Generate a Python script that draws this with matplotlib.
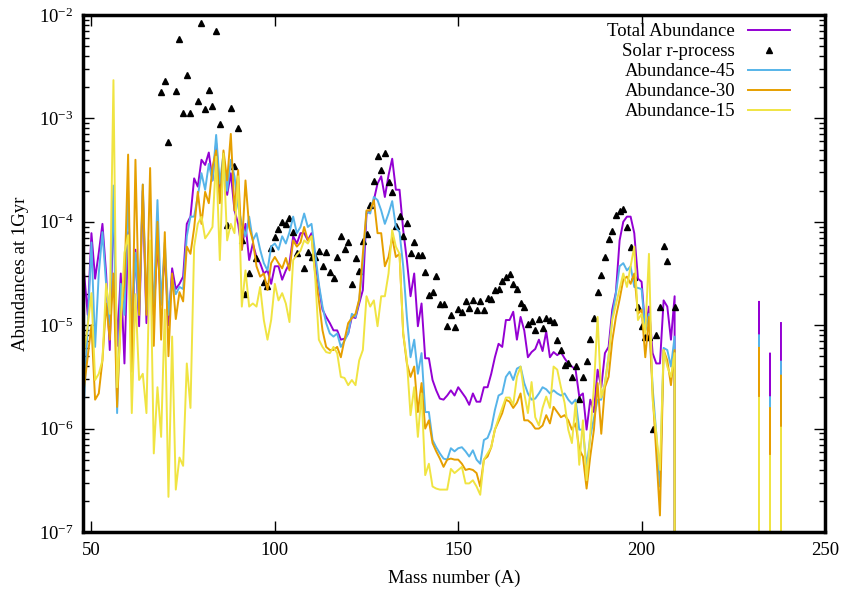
import numpy as np
import matplotlib
matplotlib.use("Agg")
import matplotlib.pyplot as plt
from matplotlib.ticker import LogLocator, NullFormatter

plt.rcParams['font.family'] = ['Liberation Serif', 'DejaVu Serif']
plt.rcParams['mathtext.fontset'] = 'stix'

# mass numbers of the main block (48..209), then nothing until the actinides
A_main = np.arange(48, 210)
A_tail = np.arange(210, 239)
actinide_A = [232, 235, 238]

# log10 of abundance, one value per A = 48..209
log_total = [
    -4.50, -4.90, -4.11, -4.55, -4.30, -4.02, -4.50, -5.24, -3.80, -5.20,   # 48-57
    -4.50, -5.37, -4.10, -5.14, -4.27, -5.01, -3.70, -4.98, -4.40, -4.90,   # 58-67
    -4.20, -4.80, -4.30, -5.00, -4.45, -4.65, -4.60, -4.53, -4.02, -3.95,   # 68-77
    -3.58, -3.66, -3.40, -3.45, -3.33, -3.60, -3.24, -3.69, -3.45, -3.74,   # 78-87
    -3.53, -3.89, -4.02, -4.27, -4.02, -4.37, -4.21, -4.34, -4.40, -4.50,   # 88-97
    -4.47, -4.60, -4.43, -4.43, -4.56, -4.47, -4.40, -4.14, -4.21, -4.11,   # 98-107
    -4.11, -4.18, -4.11, -4.37, -4.63, -4.85, -4.92, -4.98, -5.05, -5.05,   # 108-117
    -5.14, -5.13, -5.08, -4.92, -4.93, -4.79, -4.66, -3.92, -3.89, -3.79,   # 118-127
    -3.63, -3.56, -3.76, -3.55, -3.39, -3.69, -3.69, -4.08, -4.37, -4.72,   # 128-137
    -4.50, -5.01, -4.79, -5.32, -5.32, -5.53, -5.63, -5.71, -5.72, -5.68,   # 138-147
    -5.63, -5.68, -5.60, -5.65, -5.70, -5.77, -5.66, -5.74, -5.74, -5.60,   # 148-157
    -5.60, -5.47, -5.31, -5.18, -5.21, -4.95, -4.95, -4.87, -5.14, -4.92,   # 158-167
    -5.05, -5.31, -5.26, -5.23, -5.14, -5.25, -5.06, -5.31, -5.26, -5.29,   # 168-177
    -5.26, -5.32, -5.37, -5.40, -5.43, -5.69, -5.66, -6.01, -5.72, -5.84,   # 178-187
    -5.43, -5.60, -5.27, -5.21, -4.85, -4.68, -4.18, -4.00, -3.95, -3.95,   # 188-197
    -4.11, -4.55, -4.58, -5.05, -4.82, -5.27, -5.37, -5.37, -4.76, -4.82,   # 198-207
    -5.14, -4.72,                                                           # 208-209
]
log_ab45 = [
    -5.72, -5.00, -4.20, -5.21, -4.50, -4.10, -4.60, -5.00, -3.65, -5.85,
    -4.60, -4.90, -3.70, -5.10, -4.30, -4.90, -3.64, -4.85, -4.30, -4.80,
    -3.79, -4.80, -4.20, -4.90, -4.55, -4.70, -4.63, -4.65, -4.14, -3.95,
    -3.95, -3.75, -3.53, -3.69, -3.44, -3.60, -3.16, -3.63, -3.34, -3.70,
    -3.40, -3.56, -3.85, -4.02, -4.14, -3.95, -4.18, -4.11, -4.27, -4.40,
    -4.47, -4.24, -4.21, -4.27, -4.14, -4.21, -4.10, -3.95, -4.11, -4.05,
    -3.92, -4.05, -4.02, -4.30, -4.60, -4.82, -4.98, -5.08, -5.11, -5.08,
    -5.21, -5.15, -5.08, -4.89, -4.92, -4.76, -4.40, -3.90, -3.92, -3.76,
    -3.79, -3.89, -4.02, -3.92, -3.80, -4.05, -4.10, -4.43, -4.92, -5.31,
    -5.14, -5.47, -5.27, -5.84, -5.84, -6.11, -6.18, -6.24, -6.29, -6.30,
    -6.19, -6.22, -6.19, -6.18, -6.22, -6.27, -6.21, -6.30, -6.34, -6.11,
    -6.09, -6.00, -5.82, -5.68, -5.66, -5.50, -5.45, -5.53, -5.42, -5.40,
    -5.56, -5.66, -5.72, -5.71, -5.66, -5.60, -5.62, -5.66, -5.63, -5.66,
    -5.68, -5.66, -5.72, -5.76, -5.72, -6.01, -6.01, -6.37, -6.08, -5.90,
    -5.72, -5.72, -5.56, -5.30, -4.92, -4.69, -4.43, -4.40, -4.47, -4.43,
    -4.63, -4.64, -4.65, -5.05, -4.89, -5.60, -6.05, -6.56, -5.22, -5.24,
    -5.40, -5.11,
]
log_ab30 = [
    -5.60, -5.30, -5.00, -5.72, -5.66, -5.34, -4.79, -5.14, -4.50, -5.79,
    -4.90, -4.60, -3.35, -5.45, -3.40, -4.90, -3.64, -4.90, -3.48, -5.20,
    -4.00, -5.14, -4.10, -5.30, -4.50, -4.94, -4.68, -4.77, -4.24, -4.31,
    -4.06, -3.71, -4.02, -3.71, -3.82, -3.47, -3.31, -3.82, -3.31, -3.60,
    -3.15, -3.89, -3.50, -4.27, -3.60, -4.05, -4.18, -4.43, -4.53, -4.50,
    -4.66, -4.40, -4.34, -4.40, -4.45, -4.35, -4.47, -4.18, -4.24, -4.20,
    -4.05, -4.18, -4.14, -4.50, -4.76, -5.05, -5.21, -5.24, -5.24, -5.21,
    -5.31, -5.14, -4.98, -4.93, -4.89, -4.75, -4.31, -3.89, -3.89, -3.79,
    -4.11, -4.11, -4.43, -4.34, -4.15, -4.34, -4.31, -5.08, -5.37, -5.50,
    -5.40, -5.84, -5.56, -6.00, -5.92, -6.14, -6.22, -6.29, -6.37, -6.30,
    -6.29, -6.30, -6.30, -6.34, -6.40, -6.39, -6.40, -6.43, -6.56, -6.30,
    -6.27, -6.18, -6.01, -5.93, -5.85, -5.72, -5.74, -5.80, -5.75, -5.66,
    -5.92, -5.92, -5.95, -6.00, -6.00, -5.97, -5.87, -5.95, -5.79, -5.84,
    -5.89, -5.87, -5.92, -6.01, -5.95, -6.20, -6.27, -6.58, -6.27, -6.01,
    -5.56, -6.05, -5.60, -5.50, -5.15, -4.92, -4.75, -4.56, -4.53, -4.60,
    -4.50, -4.89, -4.85, -5.31, -4.92, -5.66, -6.24, -6.84, -5.24, -5.34,
    -5.58, -5.24,
]
log_ab15 = [
    -5.27, -5.00, -4.69, -5.53, -5.47, -5.34, -4.60, -4.89, -2.63, -5.60,
    -5.00, -4.30, -4.13, -5.85, -4.70, -5.53, -5.47, -5.85, -4.18, -6.24,
    -5.60, -6.08, -4.85, -6.66, -5.11, -6.59, -6.28, -6.36, -5.37, -5.80,
    -4.24, -4.02, -3.95, -4.16, -4.11, -4.05, -3.37, -4.37, -3.34, -4.18,
    -4.02, -4.11, -3.56, -4.82, -4.47, -4.82, -4.79, -4.82, -4.63, -4.95,
    -5.14, -4.95, -4.60, -4.76, -4.69, -4.79, -4.97, -4.37, -4.32, -4.28,
    -4.18, -4.21, -4.14, -4.53, -5.14, -5.21, -5.26, -5.27, -5.21, -5.27,
    -5.50, -5.51, -5.58, -5.53, -5.58, -5.34, -5.24, -4.72, -4.82, -4.76,
    -5.01, -4.72, -4.72, -4.50, -4.08, -4.24, -4.31, -5.08, -5.34, -5.87,
    -5.60, -6.08, -5.66, -6.45, -6.34, -6.56, -6.58, -6.59, -6.59, -6.59,
    -6.39, -6.43, -6.40, -6.37, -6.53, -6.53, -6.50, -6.56, -6.64, -6.30,
    -6.24, -6.18, -6.01, -5.90, -5.80, -5.70, -5.70, -5.77, -5.50, -5.40,
    -5.66, -5.85, -5.55, -5.89, -5.97, -5.80, -5.69, -5.80, -5.40, -5.43,
    -5.60, -5.75, -6.01, -6.14, -5.75, -6.35, -5.92, -6.50, -6.05, -5.60,
    -4.92, -5.70, -5.57, -5.30, -4.95, -4.80, -4.65, -4.50, -4.63, -4.43,
    -4.24, -4.95, -4.89, -5.08, -4.31, -5.72, -6.05, -6.40, -5.24, -5.40,
    -5.50, -5.27,
]

# Th-232, U-235, U-238 (log10)
act_total = [-4.773, -5.272, -4.979]
act_ab45 = [-5.095, -5.694, -5.353]
act_ab30 = [-5.218, -5.800, -5.488]
act_ab15 = [-5.701, -6.262, -5.991]

# solar r-process points
solar_A = [69, 70, 71, 73, 74, 75, 76, 77, 79, 80, 81, 82, 83, 84, 85, 87, 88, 89,
           90, 91, 92, 93, 95, 97, 98, 99, 100, 101, 102, 103, 104, 105, 106,
           108, 109, 110, 111, 112, 113, 114, 115, 116, 117, 118, 119, 120,
           121, 122, 123, 124, 125, 126, 127, 128, 129, 130, 131, 132, 133,
           134, 135, 136, 137, 138, 139, 140, 141, 142, 143, 144, 145, 146,
           147, 148, 149, 150, 151, 152, 153, 154, 155, 156, 157, 158, 159,
           160, 161, 162, 163, 164, 165, 166, 167, 168, 169, 170, 171, 172,
           173, 174, 175, 176, 177, 178, 179, 180, 181, 182, 183, 184, 185,
           186, 187, 188, 189, 190, 191, 192, 193, 194, 195, 196, 197, 198,
           199, 200, 201, 202, 203, 204, 205, 206, 207, 209]
solar_log = [-2.745, -2.638, -3.231, -2.732, -2.232, -2.951, -2.580, -2.951,
             -2.832, -2.080, -2.906, -2.725, -2.877, -2.152, -3.054, -4.031,
             -2.902, -3.457, -3.096, -4.176, -4.698, -4.498, -4.353, -4.579,
             -4.621, -4.250, -4.144, -4.070, -4.000, -4.024, -3.966, -4.099,
             -4.299, -4.450, -4.295, -4.338, -4.338, -4.278, -4.427, -4.292,
             -4.483, -4.546, -4.345, -4.137, -4.263, -4.195, -4.601, -4.347,
             -4.473, -4.186, -4.121, -3.840, -3.603, -3.361, -3.496, -3.332,
             -3.612, -3.712, -4.041, -3.941, -4.134, -4.009, -4.299, -4.198,
             -4.324, -4.321, -4.486, -4.708, -4.679, -4.524, -4.792, -4.798,
             -5.005, -4.902, -5.015, -4.840, -4.868, -4.769, -4.834, -4.756,
             -4.856, -4.766, -4.853, -4.737, -4.750, -4.660, -4.653, -4.573,
             -4.531, -4.508, -4.599, -4.650, -4.782, -4.821, -4.991, -4.956,
             -5.046, -4.940, -5.024, -4.933, -4.950, -4.966, -5.143, -5.240,
             -5.385, -5.363, -5.498, -5.392, -5.711, -5.498, -5.346, -5.136,
             -4.933, -4.676, -4.515, -4.343, -4.169, -4.089, -3.934, -3.896,
             -3.879, -4.047, -4.240, -4.531, -4.821, -5.006, -5.111, -5.117,
             -6.004, -5.098, -4.827, -4.231, -4.376, -4.827]


def whole_series(main_log, act_log):
    tail = np.zeros(len(A_tail))
    for a, v in zip(actinide_A, act_log):
        tail[a - A_tail[0]] = 10.0 ** v
    return np.concatenate([10.0 ** np.array(main_log), tail])


A = np.concatenate([A_main, A_tail])

fig = plt.figure(figsize=(8.43, 5.94), dpi=100)
ax = fig.add_axes([83 / 843, 62 / 594, 742 / 843, 517 / 594])

lw = 1.4
fs = 13.5
ax.plot(A, whole_series(log_total, act_total), color='#9400d3', lw=lw, label='Total Abundance')
ax.plot(solar_A, 10.0 ** np.array(solar_log), ls='none', marker='^', ms=5,
        color='black', label='Solar r-process')
ax.plot(A, whole_series(log_ab45, act_ab45), color='#56b4e9', lw=lw, label='Abundance-45')
ax.plot(A, whole_series(log_ab30, act_ab30), color='#e69f00', lw=lw, label='Abundance-30')
ax.plot(A, whole_series(log_ab15, act_ab15), color='#f0e442', lw=lw, label='Abundance-15')

ax.set_yscale('log')
ax.set_xlim(47.7, 250)
ax.set_ylim(1e-7, 1e-2)
ax.set_xticks([50, 100, 150, 200, 250])
ax.yaxis.set_minor_locator(LogLocator(base=10, subs=np.arange(2, 10)))
ax.yaxis.set_minor_formatter(NullFormatter())

ax.tick_params(which='both', direction='in', top=True, right=True, labelsize=fs, width=1)
ax.tick_params(which='major', length=8, pad=7)
ax.tick_params(which='minor', length=4)
for s in ax.spines.values():
    s.set_linewidth(2.5)

ax.set_xlabel('Mass number (A)', fontsize=fs, labelpad=8)
ax.set_ylabel('Abundances at 1Gyr', fontsize=fs, labelpad=7)

ax.legend(loc='upper right', bbox_to_anchor=(0.953, 0.984), frameon=False,
          markerfirst=False, fontsize=fs, handlelength=2.24, handletextpad=0.7,
          labelspacing=0.15, borderpad=0, borderaxespad=0)

fig.savefig('out.png', dpi=100)
